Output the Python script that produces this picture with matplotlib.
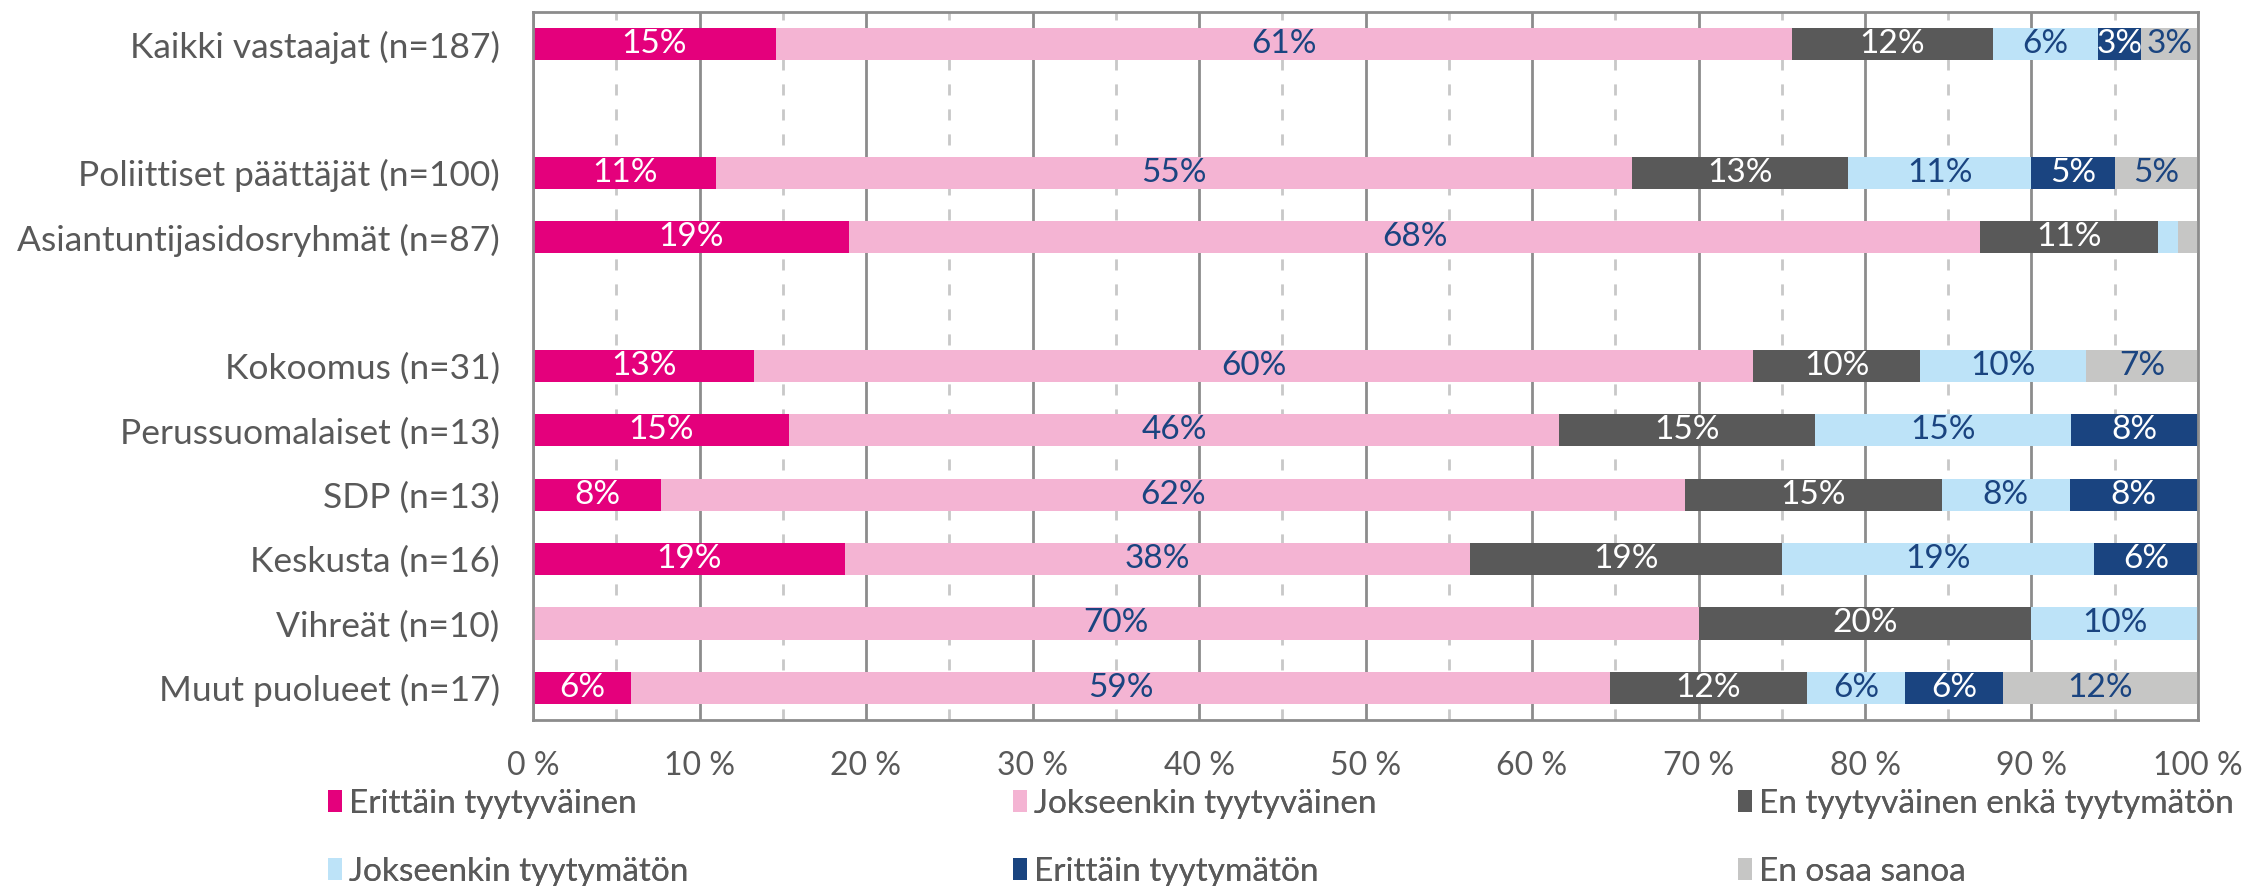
import matplotlib
matplotlib.use("Agg")
import matplotlib.pyplot as plt
from matplotlib.patches import Patch
import matplotlib.ticker as ticker
import numpy as np

rows = [
    "Kaikki vastaajat (n=187)",
    "",
    "Poliittiset päättäjät (n=100)",
    "Asiantuntijasidosryhmät (n=87)",
    "",
    "Kokoomus (n=31)",
    "Perussuomalaiset (n=13)",
    "SDP (n=13)",
    "Keskusta (n=16)",
    "Vihreät (n=10)",
    "Muut puolueet (n=17)",
]

erittain_tyytyvainen = [14.6, 0, 11, 19.0, 0, 13.3, 15.4, 7.7, 18.75, 0, 5.9]
jokseenkin_tyytyvainen = [61.0, 0, 55, 67.9, 0, 60.0, 46.2, 61.5, 37.5, 70, 58.8]
ei_kumpikaan = [12.1, 0, 13, 10.7, 0, 10.0, 15.4, 15.4, 18.75, 20, 11.8]
jokseenkin_tyytymaton = [6.3, 0, 11, 1.2, 0, 10.0, 15.4, 7.7, 18.75, 10, 5.9]
erittain_tyytymaton = [2.6, 0, 5, 0, 0, 0, 7.7, 7.7, 6.25, 0, 5.9]
en_osaa_sanoa = [3.4, 0, 5, 1.2, 0, 6.7, 0, 0, 0, 0, 11.8]

series = [
    ("Erittäin tyytyväinen", erittain_tyytyvainen, "#E4007C", "white"),
    ("Jokseenkin tyytyväinen", jokseenkin_tyytyvainen, "#F4B4D3", "#1A4480"),
    ("En tyytyväinen enkä tyytymätön", ei_kumpikaan, "#595959", "white"),
    ("Jokseenkin tyytymätön", jokseenkin_tyytymaton, "#BDE3F8", "#1A4480"),
    ("Erittäin tyytymätön", erittain_tyytymaton, "#1A4480", "white"),
    ("En osaa sanoa", en_osaa_sanoa, "#C6C6C5", "#1A4480"),
]

plt.rcParams['font.family'] = ['Lato', 'DejaVu Sans']

fig = plt.figure(figsize=(22.6, 8.86), dpi=100)
ax = fig.add_axes([533 / 2260, 1 - 720 / 886, (2198 - 533) / 2260, (720 - 12) / 886])

y = np.arange(len(rows))
left = np.zeros(len(rows))
for name, vals, color, tcolor in series:
    vals = np.array(vals, dtype=float)
    bars = ax.barh(y, vals, left=left, height=0.5, color=color, label=name)
    labels = [f"{v:.0f}%" if v >= 2 else "" for v in vals]
    ax.bar_label(bars, labels=labels, label_type='center', color=tcolor, fontsize=24)
    left += vals

ax.set_ylim(len(rows) - 0.5, -0.5)
ax.set_yticks(y)
ax.set_yticklabels(rows, fontsize=25.5, color="#595959")
ax.set_xlim(0, 100)
ax.xaxis.set_major_locator(ticker.MultipleLocator(10))
ax.xaxis.set_minor_locator(ticker.MultipleLocator(5))
ax.xaxis.set_major_formatter(ticker.FuncFormatter(lambda x, pos: f"{int(x)} %"))
ax.tick_params(axis='x', which='both', length=0, labelsize=23, labelcolor="#595959", pad=22)
ax.tick_params(axis='y', length=0, pad=24)

ax.set_axisbelow(True)
ax.grid(axis='x', which='major', color="#8C8C8C", linewidth=2)
ax.grid(axis='x', which='minor', color="#C8C8C8", linewidth=2, linestyle=(0, (4, 5)))
for s in ax.spines.values():
    s.set_color("#8C8C8C")
    s.set_linewidth(2)

# legend: three columns placed separately
handles = [Patch(facecolor=c, label=n) for n, v, c, t in series]
columns = [[0, 3], [1, 4], [2, 5]]
col_x = [328, 1013, 1738]
for idx, x0 in zip(columns, col_x):
    leg = fig.legend(
        handles=[handles[i] for i in idx],
        loc='upper left',
        bbox_to_anchor=(x0 / 2260, 1 - 789 / 886),
        frameon=False,
        fontsize=24,
        labelcolor="#595959",
        handlelength=0.42,
        handleheight=0.62,
        handletextpad=0.2,
        labelspacing=1.13,
        borderaxespad=0,
        borderpad=0,
    )
    fig.add_artist(leg)

fig.savefig("out.png", dpi=100)
